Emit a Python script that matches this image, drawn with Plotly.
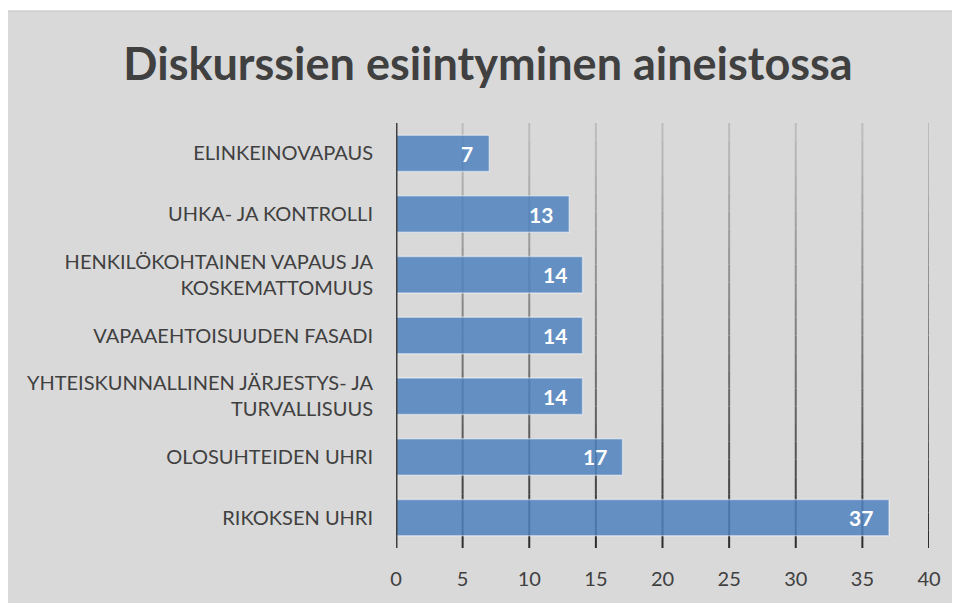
import plotly.graph_objects as go

CATEGORIES = [
    "ELINKEINOVAPAUS",
    "UHKA- JA KONTROLLI",
    "HENKILÖKOHTAINEN VAPAUS JA<br>KOSKEMATTOMUUS",
    "VAPAAEHTOISUUDEN FASADI",
    "YHTEISKUNNALLINEN JÄRJESTYS- JA<br>TURVALLISUUS",
    "OLOSUHTEIDEN UHRI",
    "RIKOKSEN UHRI",
]
VALUES = [7, 13, 14, 14, 14, 17, 37]
TICK_VALUES = [0, 5, 10, 15, 20, 25, 30, 35, 40]
TITLE = "Diskurssien esiintyminen aineistossa"

# page body has an 8px margin; compensate
OFF = 8
W, H = 960 - OFF, 603 - OFF
ML, MR, MT, MB = 396 - OFF, 31, 123 - OFF, 55
FONT = "Lato"
TXT = "#404040"

fig = go.Figure()
fig.add_trace(go.Bar(
    y=CATEGORIES, x=VALUES, orientation="h",
    marker=dict(color="rgba(79,129,189,0.85)",
                line=dict(color="rgba(255,255,255,0.45)", width=1.5)),
    hoverinfo="skip",
))

annotations = []
for c, v in zip(CATEGORIES, VALUES):
    annotations.append(dict(x=v, y=c, xref="x", yref="y", text="<b>%d</b>" % v,
                            showarrow=False, xanchor="right", yanchor="middle", xshift=-14,
                            font=dict(family=FONT, size=21, color="white")))

shapes = []
pw = W - ML - MR
ph = H - MT - MB
x0p = (4 - OFF - ML) / pw
y1p = (H - MB - (11 - OFF)) / ph
shapes.append(dict(type="rect", xref="paper", yref="paper", x0=x0p, x1=2, y0=-1, y1=y1p,
                   fillcolor="#d9d9d9", line=dict(color="#bfbfbf", width=1), layer="below"))

# gradient gridlines (light at top, dark at bottom)
N = 24
top_c = (191, 191, 191)
bot_c = (38, 38, 38)
for t in TICK_VALUES[1:]:
    for i in range(N):
        f = (i + 0.5) / N
        f = f ** 0.8
        c = tuple(int(round(bot_c[k] + (top_c[k] - bot_c[k]) * f)) for k in range(3))
        shapes.append(dict(type="line", xref="x", yref="paper", x0=t, x1=t,
                           y0=i / N, y1=(i + 1) / N,
                           line=dict(color="rgb(%d,%d,%d)" % c, width=2), layer="below"))
shapes.append(dict(type="line", xref="x", yref="paper", x0=0, x1=0, y0=0, y1=1,
                   line=dict(color="#404040", width=3), layer="above"))

fig.update_layout(
    width=W, height=H,
    margin=dict(l=ML, r=MR, t=MT, b=MB, autoexpand=False),
    paper_bgcolor="white", plot_bgcolor="rgba(0,0,0,0)",
    bargap=0.4, showlegend=False,
    title=dict(text="<b>" + TITLE + "</b>", x=(488 - OFF) / W, xanchor="center",
               y=1 - (64 - OFF) / H, yanchor="middle", yref="container",
               font=dict(family=FONT, size=45, color=TXT)),
    xaxis=dict(range=[0, 40], tickvals=TICK_VALUES, showgrid=False, zeroline=False,
               showline=False, ticks="", ticklabelstandoff=17,
               tickfont=dict(family=FONT, size=20, color=TXT), fixedrange=True),
    yaxis=dict(autorange="reversed", showgrid=False, zeroline=False, showline=False,
               ticks="", ticklabelstandoff=22,
               tickfont=dict(family=FONT, size=20, color=TXT), fixedrange=True),
    shapes=shapes,
    annotations=annotations,
)

fig.write_html("out.html")
